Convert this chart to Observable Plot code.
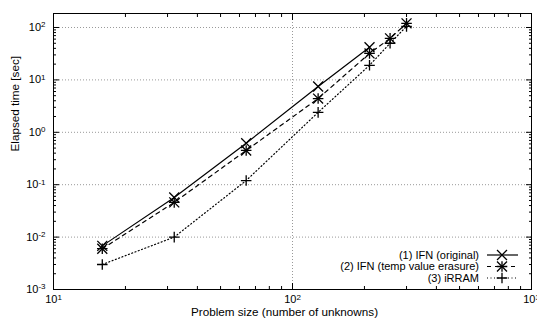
<!DOCTYPE html>
<html><head><meta charset="utf-8">
<script src="https://cdn.jsdelivr.net/npm/d3@7"></script>
<script src="https://cdn.jsdelivr.net/npm/@observablehq/plot@0.6"></script>
<style>
body{margin:0;background:#fff;}
#chart{width:537px;height:325px;}
</style></head><body><div id="chart"></div>
<script>
// ---- data ----
const sizes = [16, 32, 64, 128, 210, 256, 300];
const ifnOriginal = [0.0068, 0.057, 0.62, 7.5, 42];
const ifnErasure = [0.006, 0.046, 0.45, 4.4, 32, 62, 120];
const irram = [0.003, 0.01, 0.12, 2.4, 19, 50, 105];
const seriesNames = ["(1) IFN (original)", "(2) IFN (temp value erasure)", "(3) iRRAM"];
const xTicks = [10, 100, 1000];
const xTickLabels = ["10^1", "10^2", "10^3"];
const yTicks = [1e-3, 1e-2, 1e-1, 1, 10, 100];
const yTickLabels = ["10^-3", "10^-2", "10^-1", "10^0", "10^1", "10^2"];
const xTitle = "Problem size (number of unknowns)";
const yTitle = "Elapsed time [sec]";

const W = 537, H = 325;
const mL = 53, mR = 6, mT = 13, mB = 36;
const yMax = 185;

const s1 = ifnOriginal.map((v, i) => ({x: sizes[i], y: v}));
const s2 = ifnErasure.map((v, i) => ({x: sizes[i], y: v}));
const s3 = irram.map((v, i) => ({x: sizes[i], y: v}));

const xMinor = [], yMinor = [];
for (const k of [1, 2]) for (let m = 2; m <= 9; m++) xMinor.push(m * 10 ** k);
for (let k = -3; k <= 2; k++) for (let m = 2; m <= 9; m++) { const v = m * 10 ** k; if (v <= yMax) yMinor.push(+v.toPrecision(3)); }

const tick = {fill: "none", stroke: "black", strokeWidth: 1};
const plot = Plot.plot({
  width: W, height: H,
  marginLeft: mL, marginRight: mR, marginTop: mT, marginBottom: mB,
  style: {fontFamily: "'Liberation Sans', Arial, sans-serif", fontSize: "11px", background: "white", color: "black"},
  x: {type: "log", domain: [10, 1000], label: null},
  y: {type: "log", domain: [0.001, yMax], label: null},
  marks: [
    Plot.gridY(yTicks.slice(1), {stroke: "#999", strokeOpacity: 1, strokeDasharray: "1,2"}),
    Plot.gridX([100], {stroke: "#999", strokeOpacity: 1, strokeDasharray: "1,2"}),
    // tick marks (inward, mirrored)
    Plot.axisY(yTicks, {anchor: "left", tickSize: 6, dx: 6, ...tick}),
    Plot.axisY(yMinor, {anchor: "left", tickSize: 3, dx: 3, ...tick}),
    Plot.axisY(yTicks, {anchor: "right", tickSize: 6, dx: -6, ...tick}),
    Plot.axisY(yMinor, {anchor: "right", tickSize: 3, dx: -3, ...tick}),
    Plot.axisX(xTicks, {anchor: "bottom", tickSize: 6, dy: -6, ...tick}),
    Plot.axisX(xMinor, {anchor: "bottom", tickSize: 3, dy: -3, ...tick}),
    Plot.axisX(xTicks, {anchor: "top", tickSize: 6, dy: 6, ...tick}),
    Plot.axisX(xMinor, {anchor: "top", tickSize: 3, dy: 3, ...tick}),
    // tick labels
    Plot.axisY(yTicks, {anchor: "left", tickSize: 0, tickPadding: 8, label: null, stroke: "none",
      tickFormat: d => yTickLabels[yTicks.indexOf(d)]}),
    Plot.axisX(xTicks, {anchor: "bottom", tickSize: 0, tickPadding: 6, label: null, stroke: "none",
      tickFormat: d => xTickLabels[xTicks.indexOf(d)]}),
    Plot.frame({stroke: "black", strokeWidth: 1}),
    // series
    Plot.line(s1, {x: "x", y: "y", stroke: "black", strokeWidth: 1.2}),
    Plot.line(s2, {x: "x", y: "y", stroke: "black", strokeWidth: 1.2, strokeDasharray: "4,4"}),
    Plot.line(s3, {x: "x", y: "y", stroke: "black", strokeWidth: 1.2, strokeDasharray: "1,2.5"}),
    Plot.dot(s1, {x: "x", y: "y", symbol: "times", r: 4.6, stroke: "black", strokeWidth: 1.3}),
    Plot.dot(s2, {x: "x", y: "y", symbol: "times", r: 4.6, stroke: "black", strokeWidth: 1.3}),
    Plot.dot(s2, {x: "x", y: "y", symbol: "plus", r: 3.5, stroke: "black", strokeWidth: 1.3}),
    Plot.dot(s3, {x: "x", y: "y", symbol: "plus", r: 3.5, stroke: "black", strokeWidth: 1.3}),
    // axis titles
    Plot.text([xTitle], {text: d => d, frameAnchor: "bottom", dy: 26, dx: -8, fill: "black", fontSize: 11.7}),
    Plot.text([yTitle], {text: d => d, frameAnchor: "left", rotate: -90, dx: -38, fill: "black", fontSize: 11.7})
  ]
});
document.getElementById("chart").appendChild(plot);

// superscripts in tick labels
const ns = "http://www.w3.org/2000/svg";
plot.querySelectorAll("text").forEach(t => {
  const m = t.textContent.match(/^(\d+)\^(.+)$/);
  if (!m) return;
  t.textContent = m[1];
  const ts = document.createElementNS(ns, "tspan");
  ts.setAttribute("dy", "-0.45em");
  ts.setAttribute("font-size", "8");
  ts.textContent = m[2];
  t.appendChild(ts);
});

// legend (inside frame, bottom right)
const svg = d3.select(plot);
const right = W - mR, bottom = H - mB;
const rowsY = [bottom - 34, bottom - 22.5, bottom - 11];
const dashes = [null, "4,4", "1,2.5"];
const lg = svg.append("g").attr("font-family", "'Liberation Sans', Arial, sans-serif").attr("font-size", 11);
seriesNames.forEach((name, i) => {
  const y = rowsY[i];
  lg.append("text").attr("x", right - 52).attr("y", y).attr("dy", "0.35em").attr("text-anchor", "end").attr("fill", "black").text(name);
  lg.append("line").attr("x1", right - 44).attr("x2", right - 13).attr("y1", y).attr("y2", y)
    .attr("stroke", "black").attr("stroke-width", 1.2).attr("stroke-dasharray", dashes[i]);
  const cx = right - 29;
  const times = d3.symbol(d3.symbolTimes, Math.PI * 4.6 * 4.6)();
  const plus = d3.symbol(d3.symbolPlus, Math.PI * 3.5 * 3.5)();
  const syms = i === 0 ? [times] : i === 1 ? [times, plus] : [plus];
  syms.forEach(p => lg.append("path").attr("d", p).attr("transform", `translate(${cx},${y})`)
    .attr("fill", "none").attr("stroke", "black").attr("stroke-width", 1.3));
});
</script>
</body></html>
